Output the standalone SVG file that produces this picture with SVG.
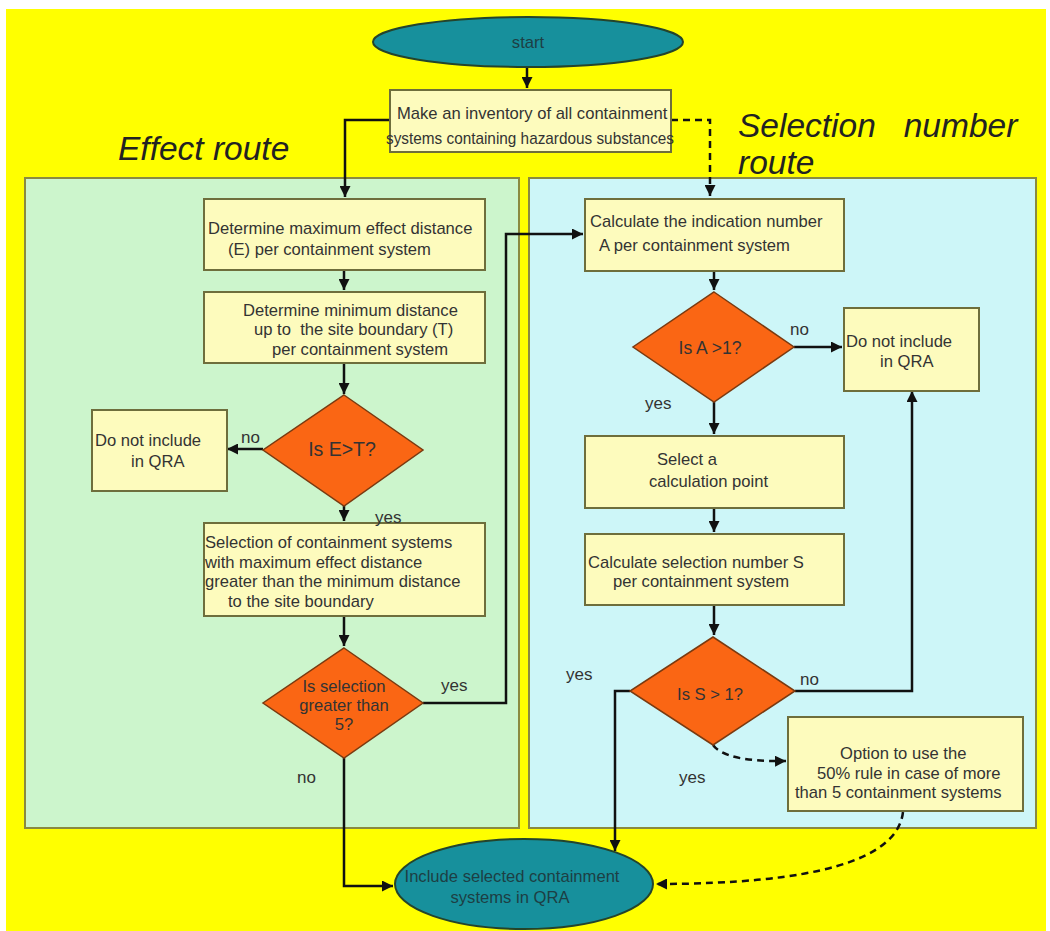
<svg xmlns="http://www.w3.org/2000/svg" width="1050" height="931" viewBox="0 0 1050 931">
<defs>
<marker id="ah" viewBox="0 0 10 10" refX="10" refY="5" markerWidth="4.4" markerHeight="4.4" orient="auto" markerUnits="strokeWidth">
<path d="M0,0 L10,5 L0,10 z" fill="#111"/>
</marker>
<style>
.box{fill:#fdfbbd;stroke:#6e6e3c;stroke-width:2}
.dia{fill:#fa6614;stroke:#7a3a10;stroke-width:1.5}
.ell{fill:#17909c;stroke:#24442c;stroke-width:2}
.t{font-family:"Liberation Sans",Arial,sans-serif;font-size:16.6px;fill:#333}
.tc{font-family:"Liberation Sans",Arial,sans-serif;font-size:16.6px;fill:#333;text-anchor:middle}
.lab{font-family:"Liberation Sans",Arial,sans-serif;font-size:17px;fill:#333}
.big{font-family:"Liberation Sans",Arial,sans-serif;font-size:33.5px;font-style:italic;fill:#222}
.c{fill:none;stroke:#111;stroke-width:2.5}
.d{fill:none;stroke:#111;stroke-width:2.5;stroke-dasharray:7,5}
</style>
</defs>
<rect x="0" y="0" width="1050" height="931" fill="#ffffff"/>
<rect x="6" y="9" width="1040" height="922" fill="#ffff00"/>

<g id="titles">
<text class="big" x="118" y="160">Effect route</text>
<text class="big" x="738" y="137" xml:space="preserve">Selection   number</text>
<text class="big" x="738" y="174">route</text>
</g>

<g id="panel-effect"><rect x="25" y="178" width="494" height="650" fill="#ccf5cc" stroke="#8a8a40" stroke-width="2"/></g>
<g id="panel-selection"><rect x="529" y="178" width="507" height="650" fill="#cdf6f8" stroke="#8a8a40" stroke-width="2"/></g>

<g id="connectors">
<path class="c" d="M527,67 V88" marker-end="url(#ah)"/>
<path class="c" d="M390,120 H345 V197" marker-end="url(#ah)"/>
<path class="d" d="M671,120 H710 V196" marker-end="url(#ah)"/>
<path class="c" d="M344,270 V290" marker-end="url(#ah)"/>
<path class="c" d="M344,363 V394" marker-end="url(#ah)"/>
<path class="c" d="M263,449 H227" marker-end="url(#ah)"/>
<path class="c" d="M344,505 V521" marker-end="url(#ah)"/>
<path class="c" d="M344,616 V646" marker-end="url(#ah)"/>
<path class="c" d="M423,703 H506 V234 H583" marker-end="url(#ah)"/>
<path class="c" d="M344,758 V886 H393" marker-end="url(#ah)"/>
<path class="c" d="M714,271 V290" marker-end="url(#ah)"/>
<path class="c" d="M794,347 H842" marker-end="url(#ah)"/>
<path class="c" d="M714,402 V434" marker-end="url(#ah)"/>
<path class="c" d="M714,508 V532" marker-end="url(#ah)"/>
<path class="c" d="M714,605 V635" marker-end="url(#ah)"/>
<path class="c" d="M795,691 H912 V391" marker-end="url(#ah)"/>
<path class="c" d="M630,691 H615 V851" marker-end="url(#ah)"/>
<path class="d" d="M713,745 Q725,762 786,761" marker-end="url(#ah)"/>
<path class="d" d="M903,812 Q895,884 656,884" marker-end="url(#ah)"/>
</g>

<g id="start">
<ellipse class="ell" cx="528" cy="42" rx="155" ry="25"/>
<text class="tc" x="528" y="48" style="fill:#1d3f44">start</text>
</g>

<g id="inventory">
<rect class="box" x="390" y="90" width="281" height="62"/>
<text class="t" x="397" y="119">Make an inventory of all containment</text>
<text class="t" x="386" y="144" textLength="288" lengthAdjust="spacingAndGlyphs">systems containing hazardous substances</text>
</g>

<g id="max-effect">
<rect class="box" x="204" y="199" width="281" height="71"/>
<text class="t" x="208" y="234">Determine maximum effect distance</text>
<text class="t" x="228" y="255">(E) per containment system</text>
</g>

<g id="min-distance">
<rect class="box" x="204" y="292" width="281" height="71"/>
<text class="t" x="243" y="316">Determine minimum distance</text>
<text class="t" x="254" y="335" xml:space="preserve">up to  the site boundary (T)</text>
<text class="t" x="272" y="355">per containment system</text>
</g>

<g id="dec-et">
<polygon class="dia" points="344,395 423,450 344,506 263,450"/>
<text class="tc" x="342" y="456" style="font-size:19.5px">Is E&gt;T?</text>
</g>

<g id="not-left">
<rect class="box" x="92" y="410" width="135" height="81"/>
<text class="t" x="95" y="446">Do not include</text>
<text class="t" x="131" y="467">in QRA</text>
</g>

<g id="selection">
<rect class="box" x="204" y="523" width="281" height="93"/>
<text class="t" x="205" y="548">Selection of containment systems</text>
<text class="t" x="205" y="568">with maximum effect distance</text>
<text class="t" x="205" y="587">greater than the minimum distance</text>
<text class="t" x="228" y="607">to the site boundary</text>
</g>

<g id="dec-five">
<polygon class="dia" points="344,648 423,703 344,758 263,703"/>
<text class="tc" x="344" y="692">Is selection</text>
<text class="tc" x="344" y="711">greater than</text>
<text class="tc" x="344" y="730">5?</text>
</g>

<g id="indication">
<rect class="box" x="585" y="199" width="259" height="72"/>
<text class="t" x="590" y="227">Calculate the indication number</text>
<text class="t" x="599" y="251">A per containment system</text>
</g>

<g id="dec-a">
<polygon class="dia" points="714,292 794,347 714,402 633,347"/>
<text class="tc" x="710" y="354" style="font-size:17.5px">Is A &gt;1?</text>
</g>

<g id="not-right">
<rect class="box" x="844" y="308" width="135" height="83"/>
<text class="t" x="846" y="347">Do not include</text>
<text class="t" x="880" y="367">in QRA</text>
</g>

<g id="calc-point">
<rect class="box" x="585" y="436" width="259" height="72"/>
<text class="t" x="657" y="465">Select a</text>
<text class="t" x="649" y="487">calculation point</text>
</g>

<g id="sel-number">
<rect class="box" x="585" y="534" width="259" height="71"/>
<text class="t" x="588" y="568">Calculate selection number S</text>
<text class="t" x="613" y="587">per containment system</text>
</g>

<g id="dec-s">
<polygon class="dia" points="713,637 795,691 713,745 630,691"/>
<text class="tc" x="710" y="700">Is S &gt; 1?</text>
</g>

<g id="option">
<rect class="box" x="788" y="717" width="235" height="94"/>
<text class="t" x="840" y="759">Option to use the</text>
<text class="t" x="817" y="779">50% rule in case of more</text>
<text class="t" x="795" y="798">than 5 containment systems</text>
</g>

<g id="end">
<ellipse class="ell" cx="524" cy="884" rx="129" ry="45"/>
<text class="tc" x="512" y="882" style="fill:#1d3f44">Include selected containment</text>
<text class="tc" x="510" y="903" style="fill:#1d3f44">systems in QRA</text>
</g>

<g id="labels">
<text class="lab" x="241" y="443">no</text>
<text class="lab" x="375" y="523">yes</text>
<text class="lab" x="441" y="691">yes</text>
<text class="lab" x="297" y="783">no</text>
<text class="lab" x="790" y="335">no</text>
<text class="lab" x="645" y="409">yes</text>
<text class="lab" x="566" y="680">yes</text>
<text class="lab" x="800" y="685">no</text>
<text class="lab" x="679" y="783">yes</text>
</g>
</svg>
